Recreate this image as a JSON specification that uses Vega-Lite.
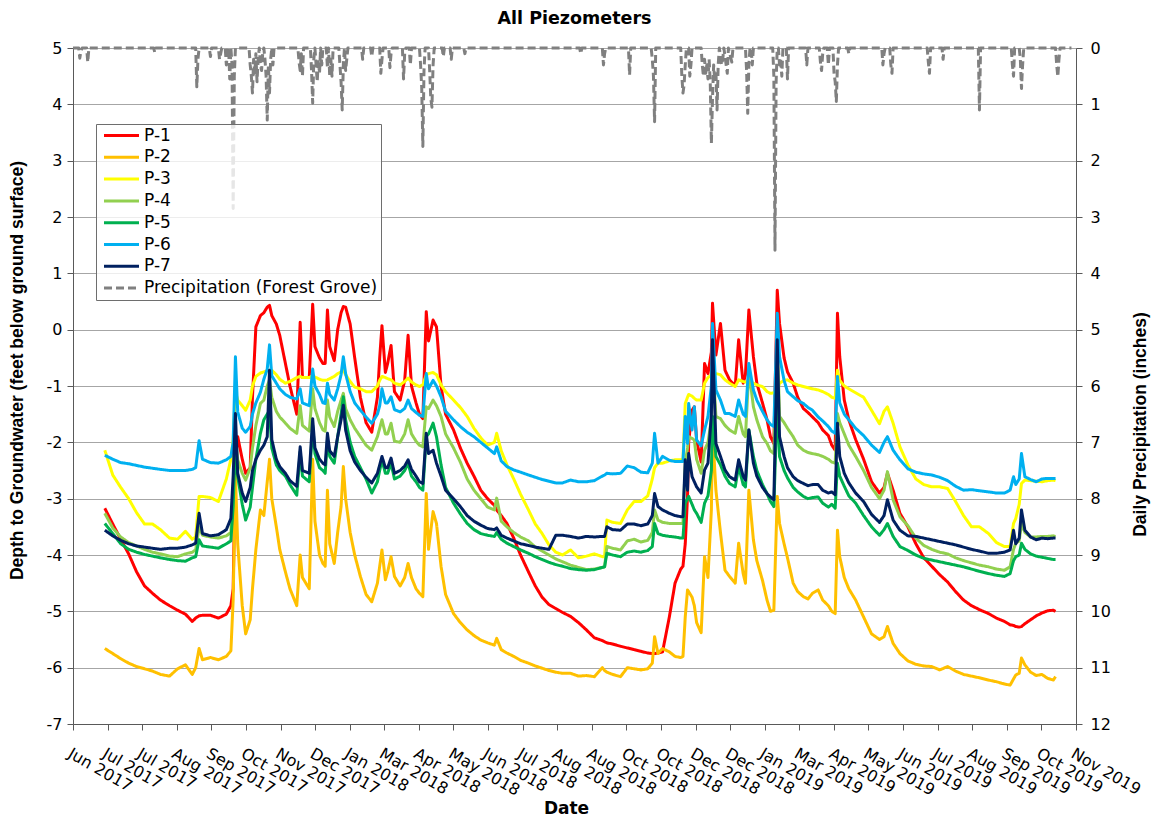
{
  "$schema": "https://vega.github.io/schema/vega-lite/v6.json",
  "width": 1003,
  "height": 676,
  "autosize": {"type": "none"},
  "padding": {"left": 73, "top": 48, "right": 80, "bottom": 97},
  "background": "white",
  "config": {
    "view": {"stroke": null},
    "locale": {"number": {"decimal": ".", "thousands": ",", "grouping": [3], "currency": ["$", ""], "minus": "-"}},
    "axis": {
      "labelFont": "DejaVu Sans",
      "labelFontSize": 16,
      "labelColor": "#000000",
      "domainColor": "#595959",
      "tickColor": "#595959",
      "tickSize": 6,
      "titleColor": "#000000",
      "titleFontWeight": "bold"
    }
  },
  "title": {
    "text": "All Piezometers",
    "font": "DejaVu Sans",
    "fontSize": 17.5,
    "fontWeight": "bold",
    "color": "#000000",
    "anchor": "middle",
    "offset": 13
  },
  "datasets": {
    "gw": [
      {"d":"2017-06-29","P-1":-3.17,"P-2":-5.66,"P-3":-2.14,"P-4":-3.26,"P-5":-3.44,"P-6":-2.23,"P-7":-3.56},
      {"d":"2017-07-06","P-1":-3.45,"P-2":-5.75,"P-3":-2.58,"P-4":-3.52,"P-5":-3.62,"P-6":-2.30,"P-7":-3.66},
      {"d":"2017-07-13","P-1":-3.72,"P-2":-5.84,"P-3":-2.80,"P-4":-3.68,"P-5":-3.80,"P-6":-2.36,"P-7":-3.74},
      {"d":"2017-07-20","P-1":-3.98,"P-2":-5.92,"P-3":-3.00,"P-4":-3.78,"P-5":-3.90,"P-6":-2.38,"P-7":-3.80},
      {"d":"2017-07-27","P-1":-4.30,"P-2":-5.98,"P-3":-3.25,"P-4":-3.84,"P-5":-3.95,"P-6":-2.41,"P-7":-3.84},
      {"d":"2017-08-03","P-1":-4.55,"P-2":-6.02,"P-3":-3.45,"P-4":-3.90,"P-5":-3.99,"P-6":-2.44,"P-7":-3.86},
      {"d":"2017-08-10","P-1":-4.68,"P-2":-6.06,"P-3":-3.45,"P-4":-3.95,"P-5":-4.02,"P-6":-2.46,"P-7":-3.88},
      {"d":"2017-08-17","P-1":-4.80,"P-2":-6.12,"P-3":-3.55,"P-4":-3.98,"P-5":-4.05,"P-6":-2.48,"P-7":-3.90},
      {"d":"2017-08-25","P-1":-4.90,"P-2":-6.15,"P-3":-3.70,"P-4":-4.02,"P-5":-4.08,"P-6":-2.50,"P-7":-3.88},
      {"d":"2017-09-01","P-1":-4.98,"P-2":-6.02,"P-3":-3.72,"P-4":-4.03,"P-5":-4.10,"P-6":-2.50,"P-7":-3.88},
      {"d":"2017-09-08","P-1":-5.05,"P-2":-5.95,"P-3":-3.58,"P-4":-3.98,"P-5":-4.11,"P-6":-2.50,"P-7":-3.86},
      {"d":"2017-09-14","P-1":-5.18,"P-2":-6.12,"P-3":-3.72,"P-4":-3.95,"P-5":-4.05,"P-6":-2.48,"P-7":-3.82},
      {"d":"2017-09-17","P-1":-5.12,"P-2":-6.00,"P-3":-3.68,"P-4":-3.91,"P-5":-4.03,"P-6":-2.45,"P-7":-3.79},
      {"d":"2017-09-20","P-1":-5.08,"P-2":-5.66,"P-3":-2.96,"P-4":-3.50,"P-5":-3.73,"P-6":-1.97,"P-7":-3.26},
      {"d":"2017-09-23","P-1":-5.07,"P-2":-5.86,"P-3":-2.96,"P-4":-3.65,"P-5":-3.84,"P-6":-2.30,"P-7":-3.62},
      {"d":"2017-09-30","P-1":-5.07,"P-2":-5.82,"P-3":-2.98,"P-4":-3.68,"P-5":-3.86,"P-6":-2.36,"P-7":-3.66},
      {"d":"2017-10-07","P-1":-5.12,"P-2":-5.86,"P-3":-3.05,"P-4":-3.70,"P-5":-3.88,"P-6":-2.37,"P-7":-3.64},
      {"d":"2017-10-14","P-1":-5.05,"P-2":-5.80,"P-3":-2.65,"P-4":-3.66,"P-5":-3.80,"P-6":-2.31,"P-7":-3.55},
      {"d":"2017-10-18","P-1":-4.90,"P-2":-5.70,"P-3":-2.30,"P-4":-3.60,"P-5":-3.75,"P-6":-2.25,"P-7":-3.35},
      {"d":"2017-10-20","P-1":-4.60,"P-2":-4.80,"P-3":-1.96,"P-4":-2.85,"P-5":-3.14,"P-6":-2.00,"P-7":-2.60},
      {"d":"2017-10-22","P-1":-2.30,"P-2":-2.60,"P-3":-1.10,"P-4":-1.90,"P-5":-2.02,"P-6":-0.48,"P-7":-1.49},
      {"d":"2017-10-24","P-1":-1.90,"P-2":-3.80,"P-3":-1.25,"P-4":-2.31,"P-5":-2.61,"P-6":-1.46,"P-7":-2.55},
      {"d":"2017-10-28","P-1":-2.30,"P-2":-4.90,"P-3":-1.35,"P-4":-2.55,"P-5":-3.10,"P-6":-1.75,"P-7":-2.90},
      {"d":"2017-10-31","P-1":-2.55,"P-2":-5.40,"P-3":-1.43,"P-4":-2.67,"P-5":-3.38,"P-6":-1.82,"P-7":-3.05},
      {"d":"2017-11-04","P-1":-2.45,"P-2":-5.15,"P-3":-1.25,"P-4":-2.45,"P-5":-3.15,"P-6":-1.72,"P-7":-2.80},
      {"d":"2017-11-06","P-1":-1.20,"P-2":-4.60,"P-3":-1.00,"P-4":-2.10,"P-5":-2.80,"P-6":-1.50,"P-7":-2.50},
      {"d":"2017-11-09","P-1":0.05,"P-2":-3.90,"P-3":-0.83,"P-4":-1.70,"P-5":-2.30,"P-6":-1.30,"P-7":-2.30},
      {"d":"2017-11-13","P-1":0.25,"P-2":-3.20,"P-3":-0.77,"P-4":-1.31,"P-5":-1.84,"P-6":-1.11,"P-7":-2.14},
      {"d":"2017-11-16","P-1":0.30,"P-2":-3.30,"P-3":-0.75,"P-4":-1.25,"P-5":-1.60,"P-6":-0.88,"P-7":-2.05},
      {"d":"2017-11-19","P-1":0.40,"P-2":-2.70,"P-3":-0.73,"P-4":-1.00,"P-5":-1.50,"P-6":-0.70,"P-7":-1.90},
      {"d":"2017-11-21","P-1":0.43,"P-2":-2.30,"P-3":-0.72,"P-4":-0.89,"P-5":-1.43,"P-6":-0.27,"P-7":-0.72},
      {"d":"2017-11-23","P-1":0.25,"P-2":-3.00,"P-3":-0.72,"P-4":-1.20,"P-5":-2.10,"P-6":-0.82,"P-7":-1.95},
      {"d":"2017-11-27","P-1":0.10,"P-2":-3.50,"P-3":-0.80,"P-4":-1.45,"P-5":-2.40,"P-6":-0.95,"P-7":-2.30},
      {"d":"2017-11-30","P-1":-0.10,"P-2":-3.90,"P-3":-0.88,"P-4":-1.55,"P-5":-2.50,"P-6":-1.05,"P-7":-2.43},
      {"d":"2017-12-05","P-1":-0.60,"P-2":-4.30,"P-3":-0.95,"P-4":-1.66,"P-5":-2.60,"P-6":-1.15,"P-7":-2.55},
      {"d":"2017-12-09","P-1":-1.00,"P-2":-4.60,"P-3":-0.92,"P-4":-1.75,"P-5":-2.75,"P-6":-1.20,"P-7":-2.68},
      {"d":"2017-12-15","P-1":-1.50,"P-2":-4.90,"P-3":-0.85,"P-4":-1.84,"P-5":-2.94,"P-6":-1.23,"P-7":-2.78},
      {"d":"2017-12-18","P-1":0.13,"P-2":-4.00,"P-3":-0.83,"P-4":-1.35,"P-5":-2.17,"P-6":-1.05,"P-7":-2.08},
      {"d":"2017-12-20","P-1":-0.85,"P-2":-4.40,"P-3":-0.85,"P-4":-1.70,"P-5":-2.60,"P-6":-1.30,"P-7":-2.50},
      {"d":"2017-12-26","P-1":-0.85,"P-2":-4.60,"P-3":-0.85,"P-4":-1.80,"P-5":-2.70,"P-6":-1.35,"P-7":-2.55},
      {"d":"2017-12-29","P-1":0.45,"P-2":-2.30,"P-3":-0.82,"P-4":-1.05,"P-5":-1.70,"P-6":-0.70,"P-7":-1.58},
      {"d":"2017-12-31","P-1":-0.30,"P-2":-3.40,"P-3":-0.84,"P-4":-1.40,"P-5":-2.20,"P-6":-1.00,"P-7":-2.10},
      {"d":"2018-01-04","P-1":-0.50,"P-2":-4.00,"P-3":-0.88,"P-4":-1.65,"P-5":-2.45,"P-6":-1.15,"P-7":-2.30},
      {"d":"2018-01-07","P-1":-0.60,"P-2":-4.15,"P-3":-0.90,"P-4":-1.78,"P-5":-2.50,"P-6":-1.30,"P-7":-2.37},
      {"d":"2018-01-09","P-1":-0.60,"P-2":-4.20,"P-3":-0.90,"P-4":-1.80,"P-5":-2.55,"P-6":-1.31,"P-7":-2.40},
      {"d":"2018-01-11","P-1":0.35,"P-2":-2.85,"P-3":-0.89,"P-4":-1.25,"P-5":-1.96,"P-6":-0.95,"P-7":-1.84},
      {"d":"2018-01-13","P-1":-0.30,"P-2":-3.80,"P-3":-0.87,"P-4":-1.55,"P-5":-2.25,"P-6":-1.15,"P-7":-2.15},
      {"d":"2018-01-17","P-1":-0.55,"P-2":-4.15,"P-3":-0.83,"P-4":-1.72,"P-5":-2.37,"P-6":-1.25,"P-7":-2.25},
      {"d":"2018-01-20","P-1":0.00,"P-2":-3.60,"P-3":-0.78,"P-4":-1.45,"P-5":-1.90,"P-6":-1.05,"P-7":-1.90},
      {"d":"2018-01-23","P-1":0.30,"P-2":-3.14,"P-3":-0.75,"P-4":-1.25,"P-5":-1.50,"P-6":-0.80,"P-7":-1.60},
      {"d":"2018-01-25","P-1":0.41,"P-2":-2.43,"P-3":-0.72,"P-4":-1.13,"P-5":-1.19,"P-6":-0.48,"P-7":-1.34},
      {"d":"2018-01-27","P-1":0.40,"P-2":-3.00,"P-3":-0.80,"P-4":-1.40,"P-5":-1.60,"P-6":-0.78,"P-7":-1.78},
      {"d":"2018-01-31","P-1":0.10,"P-2":-3.60,"P-3":-0.92,"P-4":-1.60,"P-5":-2.00,"P-6":-1.10,"P-7":-2.15},
      {"d":"2018-02-04","P-1":-0.50,"P-2":-4.00,"P-3":-1.02,"P-4":-1.75,"P-5":-2.25,"P-6":-1.30,"P-7":-2.35},
      {"d":"2018-02-09","P-1":-1.20,"P-2":-4.38,"P-3":-1.05,"P-4":-1.90,"P-5":-2.45,"P-6":-1.43,"P-7":-2.50},
      {"d":"2018-02-14","P-1":-1.65,"P-2":-4.70,"P-3":-1.10,"P-4":-2.05,"P-5":-2.65,"P-6":-1.55,"P-7":-2.62},
      {"d":"2018-02-19","P-1":-1.82,"P-2":-4.83,"P-3":-1.10,"P-4":-2.14,"P-5":-2.90,"P-6":-1.66,"P-7":-2.72},
      {"d":"2018-02-24","P-1":-1.20,"P-2":-4.50,"P-3":-1.00,"P-4":-1.90,"P-5":-2.70,"P-6":-1.50,"P-7":-2.55},
      {"d":"2018-02-26","P-1":-0.50,"P-2":-4.20,"P-3":-0.90,"P-4":-1.75,"P-5":-2.50,"P-6":-1.35,"P-7":-2.40},
      {"d":"2018-02-28","P-1":0.07,"P-2":-3.91,"P-3":-0.83,"P-4":-1.60,"P-5":-2.31,"P-6":-1.05,"P-7":-2.25},
      {"d":"2018-03-03","P-1":-0.76,"P-2":-4.44,"P-3":-0.85,"P-4":-1.85,"P-5":-2.55,"P-6":-1.30,"P-7":-2.45},
      {"d":"2018-03-05","P-1":-0.60,"P-2":-4.30,"P-3":-0.87,"P-4":-1.85,"P-5":-2.55,"P-6":-1.30,"P-7":-2.45},
      {"d":"2018-03-08","P-1":-0.28,"P-2":-4.03,"P-3":-0.89,"P-4":-1.66,"P-5":-2.37,"P-6":-1.19,"P-7":-2.28},
      {"d":"2018-03-11","P-1":-1.10,"P-2":-4.38,"P-3":-0.95,"P-4":-1.98,"P-5":-2.65,"P-6":-1.42,"P-7":-2.55},
      {"d":"2018-03-16","P-1":-1.25,"P-2":-4.55,"P-3":-0.98,"P-4":-2.00,"P-5":-2.60,"P-6":-1.46,"P-7":-2.50},
      {"d":"2018-03-20","P-1":-0.90,"P-2":-4.40,"P-3":-0.92,"P-4":-1.85,"P-5":-2.50,"P-6":-1.40,"P-7":-2.42},
      {"d":"2018-03-23","P-1":-0.10,"P-2":-4.15,"P-3":-0.86,"P-4":-1.60,"P-5":-2.37,"P-6":-1.25,"P-7":-2.31},
      {"d":"2018-03-26","P-1":-1.00,"P-2":-4.40,"P-3":-0.93,"P-4":-1.85,"P-5":-2.60,"P-6":-1.40,"P-7":-2.48},
      {"d":"2018-03-30","P-1":-1.30,"P-2":-4.60,"P-3":-0.98,"P-4":-1.98,"P-5":-2.70,"P-6":-1.47,"P-7":-2.60},
      {"d":"2018-04-02","P-1":-1.50,"P-2":-4.68,"P-3":-1.01,"P-4":-2.05,"P-5":-2.80,"P-6":-1.52,"P-7":-2.70},
      {"d":"2018-04-05","P-1":-1.58,"P-2":-4.74,"P-3":-0.98,"P-4":-2.08,"P-5":-2.85,"P-6":-1.54,"P-7":-2.73},
      {"d":"2018-04-08","P-1":0.32,"P-2":-2.91,"P-3":-0.80,"P-4":-1.37,"P-5":-1.90,"P-6":-0.78,"P-7":-1.84},
      {"d":"2018-04-10","P-1":-0.20,"P-2":-3.90,"P-3":-0.78,"P-4":-1.40,"P-5":-1.85,"P-6":-1.05,"P-7":-2.20},
      {"d":"2018-04-14","P-1":0.17,"P-2":-3.23,"P-3":-0.76,"P-4":-1.25,"P-5":-1.66,"P-6":-0.90,"P-7":-2.14},
      {"d":"2018-04-17","P-1":0.05,"P-2":-3.44,"P-3":-0.80,"P-4":-1.35,"P-5":-1.90,"P-6":-1.00,"P-7":-2.37},
      {"d":"2018-04-21","P-1":-1.00,"P-2":-4.20,"P-3":-0.98,"P-4":-1.54,"P-5":-2.40,"P-6":-1.19,"P-7":-2.60},
      {"d":"2018-04-25","P-1":-1.50,"P-2":-4.70,"P-3":-1.10,"P-4":-1.85,"P-5":-2.80,"P-6":-1.45,"P-7":-2.85},
      {"d":"2018-05-02","P-1":-1.78,"P-2":-5.04,"P-3":-1.25,"P-4":-2.10,"P-5":-3.08,"P-6":-1.60,"P-7":-3.00},
      {"d":"2018-05-08","P-1":-2.10,"P-2":-5.20,"P-3":-1.38,"P-4":-2.35,"P-5":-3.27,"P-6":-1.72,"P-7":-3.14},
      {"d":"2018-05-14","P-1":-2.37,"P-2":-5.33,"P-3":-1.54,"P-4":-2.65,"P-5":-3.44,"P-6":-1.82,"P-7":-3.30},
      {"d":"2018-05-20","P-1":-2.60,"P-2":-5.43,"P-3":-1.75,"P-4":-2.85,"P-5":-3.55,"P-6":-1.90,"P-7":-3.40},
      {"d":"2018-05-26","P-1":-2.85,"P-2":-5.51,"P-3":-1.92,"P-4":-3.00,"P-5":-3.62,"P-6":-2.00,"P-7":-3.47},
      {"d":"2018-06-01","P-1":-3.00,"P-2":-5.56,"P-3":-2.05,"P-4":-3.15,"P-5":-3.65,"P-6":-2.10,"P-7":-3.53},
      {"d":"2018-06-07","P-1":-3.12,"P-2":-5.60,"P-3":-2.00,"P-4":-3.20,"P-5":-3.67,"P-6":-2.20,"P-7":-3.55},
      {"d":"2018-06-09","P-1":-3.20,"P-2":-5.48,"P-3":-1.84,"P-4":-2.99,"P-5":-3.60,"P-6":-2.08,"P-7":-3.52},
      {"d":"2018-06-13","P-1":-3.30,"P-2":-5.68,"P-3":-2.15,"P-4":-3.40,"P-5":-3.72,"P-6":-2.33,"P-7":-3.65},
      {"d":"2018-06-18","P-1":-3.44,"P-2":-5.74,"P-3":-2.40,"P-4":-3.50,"P-5":-3.79,"P-6":-2.43,"P-7":-3.70},
      {"d":"2018-06-24","P-1":-3.70,"P-2":-5.80,"P-3":-2.65,"P-4":-3.60,"P-5":-3.85,"P-6":-2.49,"P-7":-3.75},
      {"d":"2018-06-30","P-1":-4.00,"P-2":-5.87,"P-3":-2.92,"P-4":-3.68,"P-5":-3.91,"P-6":-2.53,"P-7":-3.80},
      {"d":"2018-07-07","P-1":-4.30,"P-2":-5.92,"P-3":-3.20,"P-4":-3.75,"P-5":-3.97,"P-6":-2.58,"P-7":-3.83},
      {"d":"2018-07-13","P-1":-4.55,"P-2":-5.97,"P-3":-3.45,"P-4":-3.86,"P-5":-4.03,"P-6":-2.62,"P-7":-3.86},
      {"d":"2018-07-19","P-1":-4.75,"P-2":-6.01,"P-3":-3.62,"P-4":-3.93,"P-5":-4.08,"P-6":-2.66,"P-7":-3.88},
      {"d":"2018-07-25","P-1":-4.88,"P-2":-6.05,"P-3":-3.82,"P-4":-4.00,"P-5":-4.13,"P-6":-2.69,"P-7":-3.90},
      {"d":"2018-07-31","P-1":-4.95,"P-2":-6.08,"P-3":-3.95,"P-4":-4.07,"P-5":-4.17,"P-6":-2.72,"P-7":-3.65},
      {"d":"2018-08-06","P-1":-5.02,"P-2":-6.10,"P-3":-4.00,"P-4":-4.12,"P-5":-4.20,"P-6":-2.72,"P-7":-3.65},
      {"d":"2018-08-13","P-1":-5.09,"P-2":-6.10,"P-3":-3.91,"P-4":-4.18,"P-5":-4.24,"P-6":-2.67,"P-7":-3.67},
      {"d":"2018-08-20","P-1":-5.20,"P-2":-6.15,"P-3":-4.05,"P-4":-4.22,"P-5":-4.26,"P-6":-2.70,"P-7":-3.70},
      {"d":"2018-08-27","P-1":-5.33,"P-2":-6.14,"P-3":-4.02,"P-4":-4.26,"P-5":-4.27,"P-6":-2.70,"P-7":-3.67},
      {"d":"2018-09-03","P-1":-5.47,"P-2":-6.16,"P-3":-3.98,"P-4":-4.25,"P-5":-4.26,"P-6":-2.68,"P-7":-3.68},
      {"d":"2018-09-10","P-1":-5.52,"P-2":-6.00,"P-3":-4.03,"P-4":-4.22,"P-5":-4.22,"P-6":-2.60,"P-7":-3.67},
      {"d":"2018-09-12","P-1":-5.54,"P-2":-6.05,"P-3":-4.03,"P-4":-4.21,"P-5":-4.21,"P-6":-2.58,"P-7":-3.67},
      {"d":"2018-09-14","P-1":-5.56,"P-2":-6.08,"P-3":-3.38,"P-4":-3.85,"P-5":-3.97,"P-6":-2.55,"P-7":-3.50},
      {"d":"2018-09-19","P-1":-5.58,"P-2":-6.12,"P-3":-3.42,"P-4":-3.88,"P-5":-4.00,"P-6":-2.56,"P-7":-3.55},
      {"d":"2018-09-26","P-1":-5.62,"P-2":-6.16,"P-3":-3.44,"P-4":-3.91,"P-5":-4.03,"P-6":-2.55,"P-7":-3.56},
      {"d":"2018-10-02","P-1":-5.65,"P-2":-6.00,"P-3":-3.20,"P-4":-3.75,"P-5":-3.95,"P-6":-2.42,"P-7":-3.45},
      {"d":"2018-10-08","P-1":-5.68,"P-2":-6.02,"P-3":-3.05,"P-4":-3.72,"P-5":-3.93,"P-6":-2.45,"P-7":-3.45},
      {"d":"2018-10-14","P-1":-5.71,"P-2":-6.04,"P-3":-3.05,"P-4":-3.77,"P-5":-3.95,"P-6":-2.53,"P-7":-3.48},
      {"d":"2018-10-20","P-1":-5.74,"P-2":-6.02,"P-3":-2.95,"P-4":-3.74,"P-5":-3.92,"P-6":-2.54,"P-7":-3.45},
      {"d":"2018-10-24","P-1":-5.75,"P-2":-5.92,"P-3":-2.65,"P-4":-3.60,"P-5":-3.85,"P-6":-2.37,"P-7":-3.30},
      {"d":"2018-10-26","P-1":-5.75,"P-2":-5.45,"P-3":-2.45,"P-4":-3.20,"P-5":-3.44,"P-6":-1.84,"P-7":-2.91},
      {"d":"2018-10-29","P-1":-5.74,"P-2":-5.75,"P-3":-2.37,"P-4":-3.38,"P-5":-3.62,"P-6":-2.37,"P-7":-3.14},
      {"d":"2018-11-02","P-1":-5.72,"P-2":-5.66,"P-3":-2.37,"P-4":-3.42,"P-5":-3.65,"P-6":-2.25,"P-7":-3.20},
      {"d":"2018-11-08","P-1":-5.10,"P-2":-5.72,"P-3":-2.33,"P-4":-3.44,"P-5":-3.67,"P-6":-2.32,"P-7":-3.26},
      {"d":"2018-11-13","P-1":-4.50,"P-2":-5.80,"P-3":-2.31,"P-4":-3.44,"P-5":-3.68,"P-6":-2.34,"P-7":-3.30},
      {"d":"2018-11-18","P-1":-4.25,"P-2":-5.82,"P-3":-2.31,"P-4":-3.44,"P-5":-3.70,"P-6":-2.34,"P-7":-3.32},
      {"d":"2018-11-20","P-1":-4.20,"P-2":-5.80,"P-3":-2.30,"P-4":-3.44,"P-5":-3.70,"P-6":-2.34,"P-7":-3.32},
      {"d":"2018-11-22","P-1":-3.80,"P-2":-5.10,"P-3":-1.31,"P-4":-2.37,"P-5":-3.08,"P-6":-1.54,"P-7":-2.31},
      {"d":"2018-11-24","P-1":-2.96,"P-2":-4.62,"P-3":-1.20,"P-4":-2.10,"P-5":-3.00,"P-6":-2.02,"P-7":-2.85},
      {"d":"2018-11-25","P-1":-2.00,"P-2":-4.65,"P-3":-1.15,"P-4":-1.90,"P-5":-2.96,"P-6":-1.31,"P-7":-2.20},
      {"d":"2018-11-28","P-1":-1.43,"P-2":-4.75,"P-3":-1.18,"P-4":-1.93,"P-5":-3.10,"P-6":-1.78,"P-7":-2.61},
      {"d":"2018-11-30","P-1":-1.37,"P-2":-4.90,"P-3":-1.22,"P-4":-1.96,"P-5":-3.20,"P-6":-1.37,"P-7":-2.70},
      {"d":"2018-12-02","P-1":-1.96,"P-2":-5.20,"P-3":-1.25,"P-4":-2.30,"P-5":-3.26,"P-6":-1.96,"P-7":-2.79},
      {"d":"2018-12-06","P-1":-2.35,"P-2":-5.38,"P-3":-1.25,"P-4":-2.55,"P-5":-3.42,"P-6":-2.06,"P-7":-2.90},
      {"d":"2018-12-09","P-1":-0.60,"P-2":-4.03,"P-3":-0.95,"P-4":-2.14,"P-5":-3.08,"P-6":-1.78,"P-7":-2.49},
      {"d":"2018-12-12","P-1":-0.78,"P-2":-4.40,"P-3":-0.85,"P-4":-2.00,"P-5":-2.95,"P-6":-1.54,"P-7":-2.37},
      {"d":"2018-12-15","P-1":-0.40,"P-2":-3.20,"P-3":-0.80,"P-4":-1.60,"P-5":-2.50,"P-6":-1.00,"P-7":-1.50},
      {"d":"2018-12-16","P-1":0.47,"P-2":-1.78,"P-3":-0.78,"P-4":-0.48,"P-5":-1.54,"P-6":0.11,"P-7":-0.18},
      {"d":"2018-12-19","P-1":-0.45,"P-2":-2.85,"P-3":-0.78,"P-4":-1.54,"P-5":-2.25,"P-6":-1.07,"P-7":-2.02},
      {"d":"2018-12-23","P-1":0.11,"P-2":-3.60,"P-3":-0.80,"P-4":-1.58,"P-5":-2.40,"P-6":-1.25,"P-7":-2.25},
      {"d":"2018-12-27","P-1":-0.72,"P-2":-4.27,"P-3":-0.89,"P-4":-1.70,"P-5":-2.60,"P-6":-1.49,"P-7":-2.49},
      {"d":"2018-12-31","P-1":-0.89,"P-2":-4.38,"P-3":-0.95,"P-4":-1.78,"P-5":-2.73,"P-6":-1.49,"P-7":-2.61},
      {"d":"2019-01-05","P-1":-1.00,"P-2":-4.50,"P-3":-1.01,"P-4":-1.84,"P-5":-2.79,"P-6":-1.54,"P-7":-2.67},
      {"d":"2019-01-08","P-1":-0.18,"P-2":-3.79,"P-3":-0.89,"P-4":-1.54,"P-5":-2.43,"P-6":-1.25,"P-7":-2.31},
      {"d":"2019-01-12","P-1":-0.95,"P-2":-4.33,"P-3":-0.92,"P-4":-1.85,"P-5":-2.75,"P-6":-1.50,"P-7":-2.60},
      {"d":"2019-01-14","P-1":-0.80,"P-2":-4.50,"P-3":-0.93,"P-4":-1.90,"P-5":-2.79,"P-6":-1.54,"P-7":-2.67},
      {"d":"2019-01-17","P-1":0.35,"P-2":-2.85,"P-3":-0.92,"P-4":-0.72,"P-5":-1.78,"P-6":-0.60,"P-7":-1.78},
      {"d":"2019-01-21","P-1":-0.48,"P-2":-3.73,"P-3":-0.95,"P-4":-1.37,"P-5":-2.25,"P-6":-1.07,"P-7":-2.37},
      {"d":"2019-01-24","P-1":-0.95,"P-2":-4.10,"P-3":-0.98,"P-4":-1.60,"P-5":-2.50,"P-6":-1.25,"P-7":-2.60},
      {"d":"2019-01-29","P-1":-1.30,"P-2":-4.45,"P-3":-1.01,"P-4":-1.90,"P-5":-2.75,"P-6":-1.45,"P-7":-2.80},
      {"d":"2019-02-02","P-1":-1.60,"P-2":-4.80,"P-3":-1.10,"P-4":-2.02,"P-5":-2.91,"P-6":-1.60,"P-7":-2.91},
      {"d":"2019-02-05","P-1":-1.90,"P-2":-5.00,"P-3":-1.13,"P-4":-2.15,"P-5":-3.05,"P-6":-1.68,"P-7":-2.97},
      {"d":"2019-02-08","P-1":-2.02,"P-2":-4.98,"P-3":-1.12,"P-4":-2.20,"P-5":-3.14,"P-6":-1.72,"P-7":-3.02},
      {"d":"2019-02-11","P-1":0.70,"P-2":-2.96,"P-3":-1.07,"P-4":-0.12,"P-5":-1.25,"P-6":0.29,"P-7":-0.18},
      {"d":"2019-02-13","P-1":0.11,"P-2":-3.44,"P-3":-0.95,"P-4":-1.54,"P-5":-2.25,"P-6":-0.48,"P-7":-1.90},
      {"d":"2019-02-17","P-1":-0.50,"P-2":-3.80,"P-3":-0.90,"P-4":-1.65,"P-5":-2.50,"P-6":-0.90,"P-7":-2.25},
      {"d":"2019-02-20","P-1":-0.75,"P-2":-4.05,"P-3":-0.89,"P-4":-1.75,"P-5":-2.63,"P-6":-1.10,"P-7":-2.45},
      {"d":"2019-02-25","P-1":-0.95,"P-2":-4.50,"P-3":-0.95,"P-4":-1.90,"P-5":-2.80,"P-6":-1.19,"P-7":-2.61},
      {"d":"2019-03-01","P-1":-1.20,"P-2":-4.65,"P-3":-0.98,"P-4":-2.05,"P-5":-2.88,"P-6":-1.26,"P-7":-2.68},
      {"d":"2019-03-06","P-1":-1.40,"P-2":-4.74,"P-3":-1.01,"P-4":-2.14,"P-5":-2.96,"P-6":-1.31,"P-7":-2.73},
      {"d":"2019-03-10","P-1":-1.47,"P-2":-4.78,"P-3":-1.03,"P-4":-2.18,"P-5":-3.00,"P-6":-1.38,"P-7":-2.77},
      {"d":"2019-03-14","P-1":-1.55,"P-2":-4.68,"P-3":-1.05,"P-4":-2.20,"P-5":-2.98,"P-6":-1.43,"P-7":-2.75},
      {"d":"2019-03-19","P-1":-1.65,"P-2":-4.62,"P-3":-1.07,"P-4":-2.22,"P-5":-2.97,"P-6":-1.55,"P-7":-2.75},
      {"d":"2019-03-23","P-1":-1.78,"P-2":-4.80,"P-3":-1.10,"P-4":-2.25,"P-5":-3.08,"P-6":-1.62,"P-7":-2.85},
      {"d":"2019-03-28","P-1":-1.88,"P-2":-4.90,"P-3":-1.15,"P-4":-2.30,"P-5":-3.15,"P-6":-1.72,"P-7":-2.90},
      {"d":"2019-03-31","P-1":-2.05,"P-2":-5.00,"P-3":-1.20,"P-4":-2.35,"P-5":-3.10,"P-6":-1.80,"P-7":-2.88},
      {"d":"2019-04-03","P-1":-2.14,"P-2":-5.04,"P-3":-1.22,"P-4":-2.37,"P-5":-3.17,"P-6":-1.84,"P-7":-2.93},
      {"d":"2019-04-05","P-1":0.29,"P-2":-3.56,"P-3":-0.72,"P-4":-1.49,"P-5":-2.37,"P-6":-0.83,"P-7":-1.66},
      {"d":"2019-04-07","P-1":-0.48,"P-2":-4.03,"P-3":-0.90,"P-4":-1.65,"P-5":-2.60,"P-6":-1.30,"P-7":-2.25},
      {"d":"2019-04-11","P-1":-1.25,"P-2":-4.40,"P-3":-1.00,"P-4":-1.85,"P-5":-2.78,"P-6":-1.50,"P-7":-2.55},
      {"d":"2019-04-15","P-1":-1.60,"P-2":-4.60,"P-3":-1.05,"P-4":-2.05,"P-5":-2.95,"P-6":-1.60,"P-7":-2.72},
      {"d":"2019-04-21","P-1":-1.95,"P-2":-4.80,"P-3":-1.12,"P-4":-2.25,"P-5":-3.08,"P-6":-1.75,"P-7":-2.90},
      {"d":"2019-04-28","P-1":-2.30,"P-2":-5.10,"P-3":-1.20,"P-4":-2.50,"P-5":-3.30,"P-6":-1.88,"P-7":-3.05},
      {"d":"2019-05-05","P-1":-2.70,"P-2":-5.40,"P-3":-1.43,"P-4":-2.80,"P-5":-3.50,"P-6":-2.05,"P-7":-3.28},
      {"d":"2019-05-12","P-1":-2.90,"P-2":-5.50,"P-3":-1.67,"P-4":-3.00,"P-5":-3.65,"P-6":-2.18,"P-7":-3.42},
      {"d":"2019-05-16","P-1":-2.80,"P-2":-5.45,"P-3":-1.45,"P-4":-2.85,"P-5":-3.55,"P-6":-2.00,"P-7":-3.30},
      {"d":"2019-05-19","P-1":-2.55,"P-2":-5.27,"P-3":-1.37,"P-4":-2.52,"P-5":-3.44,"P-6":-1.90,"P-7":-3.02},
      {"d":"2019-05-24","P-1":-2.85,"P-2":-5.57,"P-3":-1.66,"P-4":-3.02,"P-5":-3.67,"P-6":-2.14,"P-7":-3.38},
      {"d":"2019-05-30","P-1":-3.26,"P-2":-5.75,"P-3":-2.08,"P-4":-3.32,"P-5":-3.85,"P-6":-2.31,"P-7":-3.56},
      {"d":"2019-06-06","P-1":-3.50,"P-2":-5.88,"P-3":-2.40,"P-4":-3.48,"P-5":-3.92,"P-6":-2.47,"P-7":-3.66},
      {"d":"2019-06-13","P-1":-3.80,"P-2":-5.94,"P-3":-2.65,"P-4":-3.70,"P-5":-4.00,"P-6":-2.53,"P-7":-3.67},
      {"d":"2019-06-20","P-1":-4.05,"P-2":-5.97,"P-3":-2.75,"P-4":-3.83,"P-5":-4.06,"P-6":-2.56,"P-7":-3.70},
      {"d":"2019-06-27","P-1":-4.20,"P-2":-5.98,"P-3":-2.79,"P-4":-3.90,"P-5":-4.09,"P-6":-2.58,"P-7":-3.73},
      {"d":"2019-07-04","P-1":-4.35,"P-2":-6.04,"P-3":-2.79,"P-4":-3.95,"P-5":-4.12,"P-6":-2.62,"P-7":-3.76},
      {"d":"2019-07-11","P-1":-4.48,"P-2":-5.98,"P-3":-2.82,"P-4":-3.98,"P-5":-4.15,"P-6":-2.68,"P-7":-3.79},
      {"d":"2019-07-18","P-1":-4.65,"P-2":-6.06,"P-3":-3.05,"P-4":-4.05,"P-5":-4.18,"P-6":-2.78,"P-7":-3.82},
      {"d":"2019-07-25","P-1":-4.80,"P-2":-6.12,"P-3":-3.30,"P-4":-4.10,"P-5":-4.21,"P-6":-2.85,"P-7":-3.86},
      {"d":"2019-08-01","P-1":-4.90,"P-2":-6.15,"P-3":-3.50,"P-4":-4.14,"P-5":-4.25,"P-6":-2.84,"P-7":-3.90},
      {"d":"2019-08-08","P-1":-4.97,"P-2":-6.18,"P-3":-3.50,"P-4":-4.18,"P-5":-4.29,"P-6":-2.86,"P-7":-3.93},
      {"d":"2019-08-16","P-1":-5.04,"P-2":-6.22,"P-3":-3.62,"P-4":-4.21,"P-5":-4.33,"P-6":-2.88,"P-7":-3.97},
      {"d":"2019-08-23","P-1":-5.12,"P-2":-6.25,"P-3":-3.78,"P-4":-4.25,"P-5":-4.36,"P-6":-2.90,"P-7":-3.97},
      {"d":"2019-08-30","P-1":-5.18,"P-2":-6.29,"P-3":-3.85,"P-4":-4.27,"P-5":-4.38,"P-6":-2.90,"P-7":-3.95},
      {"d":"2019-09-04","P-1":-5.24,"P-2":-6.31,"P-3":-3.85,"P-4":-4.21,"P-5":-4.33,"P-6":-2.85,"P-7":-3.91},
      {"d":"2019-09-07","P-1":-5.25,"P-2":-6.20,"P-3":-3.44,"P-4":-3.90,"P-5":-4.10,"P-6":-2.61,"P-7":-3.56},
      {"d":"2019-09-09","P-1":-5.27,"P-2":-6.13,"P-3":-3.35,"P-4":-3.79,"P-5":-4.03,"P-6":-2.75,"P-7":-3.80},
      {"d":"2019-09-12","P-1":-5.28,"P-2":-6.10,"P-3":-3.10,"P-4":-3.75,"P-5":-4.00,"P-6":-2.65,"P-7":-3.70},
      {"d":"2019-09-14","P-1":-5.27,"P-2":-5.83,"P-3":-2.73,"P-4":-3.44,"P-5":-3.79,"P-6":-2.20,"P-7":-3.20},
      {"d":"2019-09-17","P-1":-5.22,"P-2":-5.95,"P-3":-2.67,"P-4":-3.60,"P-5":-3.90,"P-6":-2.61,"P-7":-3.56},
      {"d":"2019-09-22","P-1":-5.15,"P-2":-6.08,"P-3":-2.68,"P-4":-3.68,"P-5":-3.98,"P-6":-2.66,"P-7":-3.68},
      {"d":"2019-09-27","P-1":-5.08,"P-2":-6.14,"P-3":-2.69,"P-4":-3.68,"P-5":-4.02,"P-6":-2.70,"P-7":-3.73},
      {"d":"2019-10-02","P-1":-5.03,"P-2":-6.12,"P-3":-2.70,"P-4":-3.67,"P-5":-4.04,"P-6":-2.65,"P-7":-3.70},
      {"d":"2019-10-07","P-1":-4.99,"P-2":-6.19,"P-3":-2.68,"P-4":-3.67,"P-5":-4.06,"P-6":-2.64,"P-7":-3.71},
      {"d":"2019-10-12","P-1":-4.98,"P-2":-6.22,"P-3":-2.67,"P-4":-3.66,"P-5":-4.08,"P-6":-2.64,"P-7":-3.70},
      {"d":"2019-10-14","P-1":-5.00,"P-2":-6.16,"P-3":-2.68,"P-4":-3.67,"P-5":-4.08,"P-6":-2.64,"P-7":-3.70}
    ],
    "pr": [
      {"d":"2017-06-01","p":0},{"d":"2017-06-06","p":0},{"d":"2017-06-07","p":0.18},{"d":"2017-06-08","p":0.05},{"d":"2017-06-09","p":0},
      {"d":"2017-06-13","p":0},{"d":"2017-06-14","p":0.25},{"d":"2017-06-15","p":0},
      {"d":"2017-08-11","p":0},{"d":"2017-08-12","p":0.08},{"d":"2017-08-13","p":0},
      {"d":"2017-09-17","p":0},{"d":"2017-09-18","p":0.69},{"d":"2017-09-19","p":0.2},{"d":"2017-09-20","p":0},
      {"d":"2017-09-29","p":0},{"d":"2017-09-30","p":0.15},{"d":"2017-10-01","p":0},
      {"d":"2017-10-07","p":0},{"d":"2017-10-08","p":0.2},{"d":"2017-10-09","p":0.1},{"d":"2017-10-10","p":0},
      {"d":"2017-10-13","p":0},{"d":"2017-10-14","p":0.3},{"d":"2017-10-15","p":0.1},{"d":"2017-10-16","p":0},
      {"d":"2017-10-17","p":0.55},{"d":"2017-10-18","p":0},{"d":"2017-10-19","p":0.3},{"d":"2017-10-20","p":2.85},{"d":"2017-10-21","p":0.5},{"d":"2017-10-22","p":0},
      {"d":"2017-11-03","p":0},{"d":"2017-11-04","p":0.3},{"d":"2017-11-05","p":0.5},{"d":"2017-11-06","p":0.8},{"d":"2017-11-07","p":0.2},{"d":"2017-11-08","p":0.45},
      {"d":"2017-11-09","p":0.1},{"d":"2017-11-10","p":0.6},{"d":"2017-11-11","p":0.2},{"d":"2017-11-12","p":0},{"d":"2017-11-13","p":0.3},{"d":"2017-11-14","p":0.4},
      {"d":"2017-11-15","p":0.1},{"d":"2017-11-16","p":0},{"d":"2017-11-17","p":0.2},{"d":"2017-11-18","p":0.5},{"d":"2017-11-19","p":1.28},{"d":"2017-11-20","p":0.3},
      {"d":"2017-11-21","p":0.8},{"d":"2017-11-22","p":0.2},{"d":"2017-11-23","p":0},{"d":"2017-11-24","p":0.3},{"d":"2017-11-25","p":0},
      {"d":"2017-12-16","p":0},{"d":"2017-12-17","p":0.25},{"d":"2017-12-18","p":0.4},{"d":"2017-12-19","p":0.1},{"d":"2017-12-20","p":0.5},{"d":"2017-12-21","p":0},
      {"d":"2017-12-27","p":0},{"d":"2017-12-28","p":0.4},{"d":"2017-12-29","p":0.98},{"d":"2017-12-30","p":0.2},{"d":"2017-12-31","p":0},
      {"d":"2018-01-01","p":0.3},{"d":"2018-01-02","p":0.6},{"d":"2018-01-03","p":0.2},{"d":"2018-01-04","p":0.45},{"d":"2018-01-05","p":0},{"d":"2018-01-06","p":0.3},{"d":"2018-01-07","p":0},
      {"d":"2018-01-10","p":0},{"d":"2018-01-11","p":0.35},{"d":"2018-01-12","p":0},{"d":"2018-01-13","p":0.5},{"d":"2018-01-14","p":0.2},{"d":"2018-01-15","p":0.5},{"d":"2018-01-16","p":0},
      {"d":"2018-01-21","p":0},{"d":"2018-01-22","p":0.3},{"d":"2018-01-23","p":0.6},{"d":"2018-01-24","p":1.1},{"d":"2018-01-25","p":0.3},{"d":"2018-01-26","p":0},
      {"d":"2018-01-27","p":0.4},{"d":"2018-01-28","p":0.2},{"d":"2018-01-29","p":0},
      {"d":"2018-02-10","p":0},{"d":"2018-02-11","p":0.2},{"d":"2018-02-12","p":0},
      {"d":"2018-02-18","p":0},{"d":"2018-02-19","p":0.15},{"d":"2018-02-20","p":0},
      {"d":"2018-02-26","p":0},{"d":"2018-02-27","p":0.45},{"d":"2018-02-28","p":0.2},{"d":"2018-03-01","p":0},
      {"d":"2018-03-06","p":0},{"d":"2018-03-07","p":0.35},{"d":"2018-03-08","p":0.1},{"d":"2018-03-09","p":0},
      {"d":"2018-03-18","p":0},{"d":"2018-03-19","p":0.55},{"d":"2018-03-20","p":0.1},{"d":"2018-03-21","p":0},
      {"d":"2018-03-24","p":0},{"d":"2018-03-25","p":0.3},{"d":"2018-03-26","p":0},
      {"d":"2018-04-02","p":0},{"d":"2018-04-03","p":0.3},{"d":"2018-04-04","p":0.7},{"d":"2018-04-05","p":1.75},{"d":"2018-04-06","p":0.4},{"d":"2018-04-07","p":0},
      {"d":"2018-04-10","p":0},{"d":"2018-04-11","p":0.4},{"d":"2018-04-12","p":0.9},{"d":"2018-04-13","p":1.05},{"d":"2018-04-14","p":0.3},{"d":"2018-04-15","p":0},
      {"d":"2018-04-22","p":0},{"d":"2018-04-23","p":0.15},{"d":"2018-04-24","p":0},
      {"d":"2018-04-29","p":0},{"d":"2018-04-30","p":0.2},{"d":"2018-05-01","p":0},
      {"d":"2018-05-11","p":0},{"d":"2018-05-12","p":0.1},{"d":"2018-05-13","p":0},
      {"d":"2018-08-21","p":0},{"d":"2018-08-22","p":0.1},{"d":"2018-08-23","p":0},
      {"d":"2018-09-10","p":0},{"d":"2018-09-11","p":0.3},{"d":"2018-09-12","p":0.1},{"d":"2018-09-13","p":0},
      {"d":"2018-10-03","p":0},{"d":"2018-10-04","p":0.48},{"d":"2018-10-05","p":0},
      {"d":"2018-10-23","p":0},{"d":"2018-10-24","p":0.2},{"d":"2018-10-25","p":0.5},{"d":"2018-10-26","p":1.31},{"d":"2018-10-27","p":0},
      {"d":"2018-11-18","p":0},{"d":"2018-11-19","p":0.5},{"d":"2018-11-20","p":0.8},{"d":"2018-11-21","p":0.65},{"d":"2018-11-22","p":0.3},{"d":"2018-11-23","p":0},
      {"d":"2018-11-25","p":0},{"d":"2018-11-26","p":0.5},{"d":"2018-11-27","p":0.3},{"d":"2018-11-28","p":0},
      {"d":"2018-12-06","p":0},{"d":"2018-12-07","p":0.3},{"d":"2018-12-08","p":0.5},{"d":"2018-12-09","p":0.2},{"d":"2018-12-10","p":0.45},{"d":"2018-12-11","p":0.3},
      {"d":"2018-12-12","p":0.55},{"d":"2018-12-13","p":0.2},{"d":"2018-12-14","p":0.6},{"d":"2018-12-15","p":1.69},{"d":"2018-12-16","p":0.9},{"d":"2018-12-17","p":0.3},
      {"d":"2018-12-18","p":0.6},{"d":"2018-12-19","p":0.4},{"d":"2018-12-20","p":1.1},{"d":"2018-12-21","p":0.3},{"d":"2018-12-22","p":0},
      {"d":"2018-12-24","p":0.3},{"d":"2018-12-25","p":0.2},{"d":"2018-12-26","p":0},{"d":"2018-12-29","p":0.45},{"d":"2018-12-30","p":0},
      {"d":"2019-01-02","p":0.25},{"d":"2019-01-03","p":0},
      {"d":"2019-01-14","p":0},{"d":"2019-01-15","p":0.4},{"d":"2019-01-16","p":1.16},{"d":"2019-01-17","p":0.3},{"d":"2019-01-18","p":0},
      {"d":"2019-01-19","p":0},{"d":"2019-01-20","p":0.3},{"d":"2019-01-21","p":0},
      {"d":"2019-02-07","p":0},{"d":"2019-02-08","p":0.5},{"d":"2019-02-09","p":3.59},{"d":"2019-02-10","p":0.6},{"d":"2019-02-11","p":0},
      {"d":"2019-02-12","p":0},{"d":"2019-02-13","p":0.3},{"d":"2019-02-14","p":0.2},{"d":"2019-02-15","p":0.5},{"d":"2019-02-16","p":0},
      {"d":"2019-02-19","p":0},{"d":"2019-02-20","p":0.55},{"d":"2019-02-21","p":0},
      {"d":"2019-03-08","p":0},{"d":"2019-03-09","p":0.3},{"d":"2019-03-10","p":0},
      {"d":"2019-03-20","p":0},{"d":"2019-03-21","p":0.25},{"d":"2019-03-22","p":0.4},{"d":"2019-03-23","p":0.1},{"d":"2019-03-24","p":0},
      {"d":"2019-03-27","p":0},{"d":"2019-03-28","p":0.3},{"d":"2019-03-29","p":0},
      {"d":"2019-04-01","p":0},{"d":"2019-04-02","p":0.45},{"d":"2019-04-03","p":0.6},{"d":"2019-04-04","p":0.95},{"d":"2019-04-05","p":0.3},{"d":"2019-04-06","p":0},
      {"d":"2019-04-14","p":0},{"d":"2019-04-15","p":0.1},{"d":"2019-04-16","p":0},
      {"d":"2019-05-14","p":0},{"d":"2019-05-15","p":0.3},{"d":"2019-05-16","p":0.1},{"d":"2019-05-17","p":0},
      {"d":"2019-05-21","p":0},{"d":"2019-05-22","p":0.3},{"d":"2019-05-23","p":0.45},{"d":"2019-05-24","p":0},
      {"d":"2019-06-23","p":0},{"d":"2019-06-24","p":0.25},{"d":"2019-06-25","p":0.45},{"d":"2019-06-26","p":0},
      {"d":"2019-07-06","p":0},{"d":"2019-07-07","p":0.2},{"d":"2019-07-08","p":0},
      {"d":"2019-08-07","p":0},{"d":"2019-08-08","p":1.1},{"d":"2019-08-09","p":0},
      {"d":"2019-09-05","p":0},{"d":"2019-09-06","p":0.3},{"d":"2019-09-07","p":0.5},{"d":"2019-09-08","p":0},
      {"d":"2019-09-12","p":0},{"d":"2019-09-13","p":0.2},{"d":"2019-09-14","p":0.72},{"d":"2019-09-15","p":0.3},{"d":"2019-09-16","p":0},
      {"d":"2019-10-14","p":0},{"d":"2019-10-15","p":0.3},{"d":"2019-10-16","p":0.51},{"d":"2019-10-17","p":0.2},{"d":"2019-10-18","p":0},
      {"d":"2019-10-28","p":0}
    ]
  },
  "layer": [
    {
      "data": {"name": "gw"},
      "transform": [{"fold": ["P-1", "P-2", "P-3", "P-4", "P-5", "P-6", "P-7"], "as": ["series", "depth"]}],
      "mark": {"type": "line", "strokeJoin": "round"},
      "encoding": {
        "x": {
          "field": "d",
          "type": "temporal",
          "scale": {
            "type": "utc",
            "domain": [{"year": 2017, "month": 6, "date": 1, "utc": true}, {"year": 2019, "month": 11, "date": 1, "utc": true}]
          },
          "axis": {
            "values": [1496275200000, 1498905931000, 1501536662000, 1504167393000, 1506798124000, 1509428855000, 1512059586000, 1514690317000, 1517321048000, 1519951779000, 1522582510000, 1525213241000, 1527843972000, 1530474703000, 1533105434000, 1535736165000, 1538366897000, 1540997628000, 1543628359000, 1546259090000, 1548889821000, 1551520552000, 1554151283000, 1556782014000, 1559412745000, 1562043476000, 1564674207000, 1567304938000, 1569935669000, 1572566400000],
            "tickCount": 60,
            "labelExpr": "utcFormat(datum.value, '%b %Y')",
            "labelAngle": 30,
            "labelAlign": "left",
            "labelBaseline": "top",
            "labelPadding": 15,
            "labelOverlap": false,
            "labelSeparation": 0,
            "labelFlush": false,
            "labelBound": false,
            "grid": false,
            "title": "Date",
            "titleFont": "DejaVu Sans",
            "titleFontSize": 17,
            "titleX": 493,
            "titleY": 84,
            "titleBaseline": "middle"
          }
        },
        "y": {
          "field": "depth",
          "type": "quantitative",
          "scale": {"domain": [-7, 5], "nice": false, "zero": false},
          "axis": {
            "values": [-7, -6, -5, -4, -3, -2, -1, 0, 1, 2, 3, 4, 5],
            "grid": true,
            "gridColor": "#a6a6a6",
            "gridWidth": 1,
            "labelPadding": 5,
            "title": "Depth to Groundwater (feet below ground surface)",
            "titleFont": "Liberation Sans",
            "titleFontSize": 17.5,
            "titleX": -56,
            "titleY": 322,
            "titleBaseline": "middle"
          }
        },
        "color": {
          "field": "series",
          "type": "nominal",
          "scale": {
            "domain": ["P-1", "P-2", "P-3", "P-4", "P-5", "P-6", "P-7", "Precipitation (Forest Grove)"],
            "range": ["#ff0000", "#ffc000", "#ffff00", "#92d050", "#00b050", "#00b0f0", "#002060", "#808080"]
          },
          "legend": {
            "title": null,
            "orient": "none",
            "legendX": 23,
            "legendY": 76,
            "direction": "vertical",
            "symbolType": "M-3.5,0H3.5",
            "symbolSize": 100,
            "symbolStrokeWidth": 3,
            "symbolOffset": 14,
            "labelOffset": 14,
            "labelFont": "DejaVu Sans",
            "labelFontSize": 17,
            "labelColor": "#000000",
            "labelLimit": 400,
            "rowPadding": 3.8,
            "padding": 3,
            "fillColor": "rgba(255,255,255,0.8)",
            "strokeColor": "#6e6e6e"
          }
        },
        "strokeDash": {
          "field": "series",
          "type": "nominal",
          "scale": {
            "domain": ["P-1", "P-2", "P-3", "P-4", "P-5", "P-6", "P-7", "Precipitation (Forest Grove)"],
            "range": [[1, 0], [1, 0], [1, 0], [1, 0], [1, 0], [1, 0], [1, 0], [8, 4]]
          },
          "legend": {
            "title": null,
            "orient": "none",
            "legendX": 23,
            "legendY": 76,
            "direction": "vertical",
            "symbolType": "M-3.5,0H3.5",
            "symbolSize": 100,
            "symbolStrokeWidth": 3,
            "symbolOffset": 14,
            "labelOffset": 14,
            "labelFont": "DejaVu Sans",
            "labelFontSize": 17,
            "labelColor": "#000000",
            "labelLimit": 400,
            "rowPadding": 3.8,
            "padding": 3,
            "fillColor": "rgba(255,255,255,0.8)",
            "strokeColor": "#6e6e6e"
          }
        },
        "strokeWidth": {
          "field": "series",
          "type": "nominal",
          "scale": {
            "domain": ["P-1", "P-2", "P-3", "P-4", "P-5", "P-6", "P-7"],
            "range": [3, 3, 3, 3, 3, 3.2, 3.8]
          },
          "legend": null
        }
      }
    },
    {
      "data": {"name": "pr"},
      "mark": {"type": "line", "strokeWidth": 3, "strokeJoin": "round"},
      "encoding": {
        "x": {"field": "d", "type": "temporal"},
        "y": {
          "field": "p",
          "type": "quantitative",
          "scale": {"domain": [0, 12], "reverse": true, "nice": false, "zero": false},
          "axis": {
            "orient": "right",
            "values": [0, 1, 2, 3, 4, 5, 6, 7, 8, 9, 10, 11, 12],
            "grid": false,
            "labelPadding": 8,
            "title": "Daily Precipitation (inches)",
            "titleFont": "Liberation Sans",
            "titleFontSize": 17.5,
            "titleAngle": -90,
            "titleX": 64,
            "titleY": 376,
            "titleBaseline": "middle"
          }
        },
        "color": {"datum": "Precipitation (Forest Grove)"},
        "strokeDash": {"datum": "Precipitation (Forest Grove)"}
      }
    }
  ],
  "resolve": {"scale": {"y": "independent"}}
}
